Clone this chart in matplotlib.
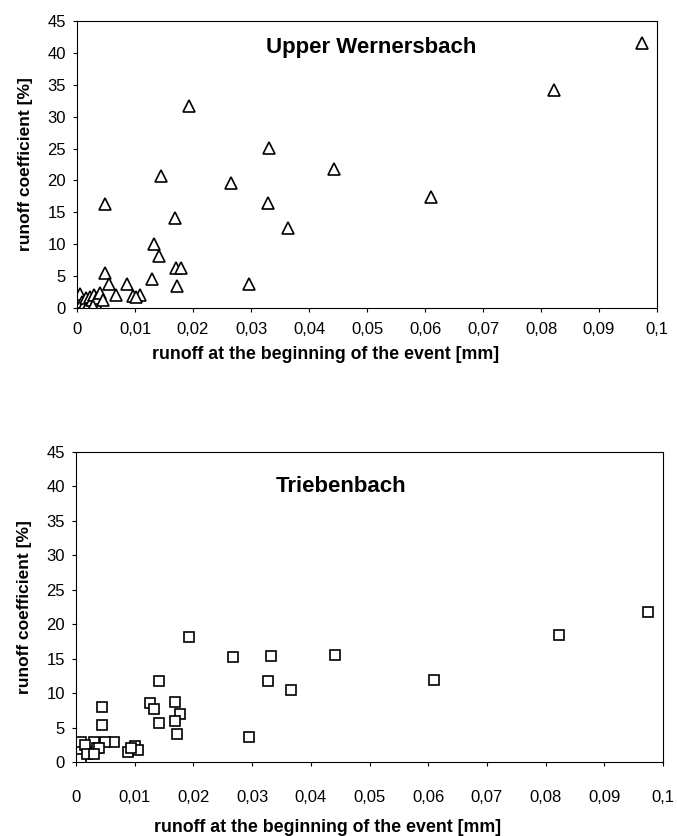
import matplotlib
matplotlib.use("Agg")
import matplotlib.pyplot as plt
from matplotlib.ticker import FixedLocator, FixedFormatter

plt.rcParams['font.family'] = ['Liberation Sans', 'DejaVu Sans']

# Upper Wernersbach (triangles)
uw_x = [0.0193, 0.0331, 0.0443, 0.01445, 0.0265, 0.0048, 0.0329, 0.0169, 0.0364,
        0.0132, 0.0142, 0.0048, 0.0170, 0.0179, 0.0130, 0.0056, 0.0172, 0.0087,
        0.0297, 0.0067, 0.0097, 0.0109, 0.0101, 0.0974, 0.0823, 0.0610,
        0.0005, 0.0008, 0.0012, 0.0015, 0.0020, 0.0022, 0.0025, 0.0030, 0.0032,
        0.0035, 0.0040, 0.0045, 0.0028]
uw_y = [31.7, 25.1, 21.8, 20.7, 19.6, 16.3, 16.4, 14.1, 12.6,
        10.0, 8.2, 5.5, 6.3, 6.2, 4.6, 3.7, 3.4, 3.7,
        3.8, 2.0, 1.9, 2.0, 1.7, 41.5, 34.2, 17.4,
        2.2, 1.0, 0.5, 1.5, 0.8, 1.8, 1.2, 2.0, 0.7,
        1.5, 2.3, 1.2, 0.3]

# Triebenbach (squares)
tb_x = [0.0193, 0.0267, 0.0332, 0.0442, 0.0141, 0.0327, 0.0366, 0.0126, 0.0133,
        0.0169, 0.0178, 0.0045, 0.0045, 0.0141, 0.0169, 0.0172, 0.0295, 0.0064,
        0.0049, 0.0089, 0.0100, 0.0106, 0.0094, 0.0975, 0.0823, 0.0610,
        0.0008, 0.0008, 0.0030, 0.0025, 0.0035, 0.0015, 0.0040, 0.0018, 0.0030]
tb_y = [18.2, 15.2, 15.4, 15.5, 11.8, 11.8, 10.5, 8.5, 7.75,
        8.7, 7.0, 8.0, 5.4, 5.7, 5.9, 4.0, 3.7, 2.9,
        2.9, 1.45, 2.3, 1.7, 2.0, 21.8, 18.5, 11.9,
        2.9, 0.5, 2.9, 1.5, 2.0, 2.4, 2.1, 1.2, 1.2]

x_ticks = [0, 0.01, 0.02, 0.03, 0.04, 0.05, 0.06, 0.07, 0.08, 0.09, 0.1]
x_labels = ["0", "0,01", "0,02", "0,03", "0,04", "0,05", "0,06", "0,07", "0,08", "0,09", "0,1"]
y_ticks = [0, 5, 10, 15, 20, 25, 30, 35, 40, 45]
y_labels = [str(v) for v in y_ticks]

fig = plt.figure(figsize=(6.77, 8.36), dpi=100)
W, H = 677, 836

def make_axes(l, r, t, b):
    return fig.add_axes([l / W, 1 - b / H, (r - l) / W, (b - t) / H])

ax1 = make_axes(77, 657, 21, 308)
ax2 = make_axes(76, 663, 452, 762)

panels = [
    # ax, x, y, marker, title, markersize, title pos, xtick pad, xlabel y, ylabel x
    (ax1, uw_x, uw_y, '^', "Upper Wernersbach", 8.0, (0.507, 0.907), 7, -0.163, -0.089),
    (ax2, tb_x, tb_y, 's', "Triebenbach", 7.0, (0.451, 0.89), 17, -0.210, -0.087),
]

for ax, xs, ys, mk, title, ms, tpos, xpad, xly, ylx in panels:
    ax.plot(xs, ys, linestyle='none', marker=mk, markersize=ms,
            markerfacecolor='white', markeredgecolor='black', markeredgewidth=1.2)
    ax.set_xlim(0, 0.1)
    ax.set_ylim(0, 45)
    ax.xaxis.set_major_locator(FixedLocator(x_ticks))
    ax.xaxis.set_major_formatter(FixedFormatter(x_labels))
    ax.yaxis.set_major_locator(FixedLocator(y_ticks))
    ax.yaxis.set_major_formatter(FixedFormatter(y_labels))
    ax.tick_params(direction='out', length=3, width=0.8, labelsize=12)
    ax.tick_params(axis='x', pad=xpad)
    ax.tick_params(axis='y', pad=5)
    for s in ax.spines.values():
        s.set_linewidth(0.8)
        s.set_color('black')
    ax.set_ylabel("runoff coefficient [%]", fontsize=12.5, fontweight='bold')
    ax.set_xlabel("runoff at the beginning of the event [mm]", fontsize=12.8,
                  fontweight='bold')
    ax.xaxis.set_label_coords(0.429, xly)
    ax.xaxis.label.set_va('center')
    ax.yaxis.set_label_coords(ylx, 0.5)
    ax.yaxis.label.set_va('center')
    ax.text(tpos[0], tpos[1], title, transform=ax.transAxes, ha='center', va='center',
            fontsize=16, fontweight='bold')

fig.savefig("out.png", dpi=100)
